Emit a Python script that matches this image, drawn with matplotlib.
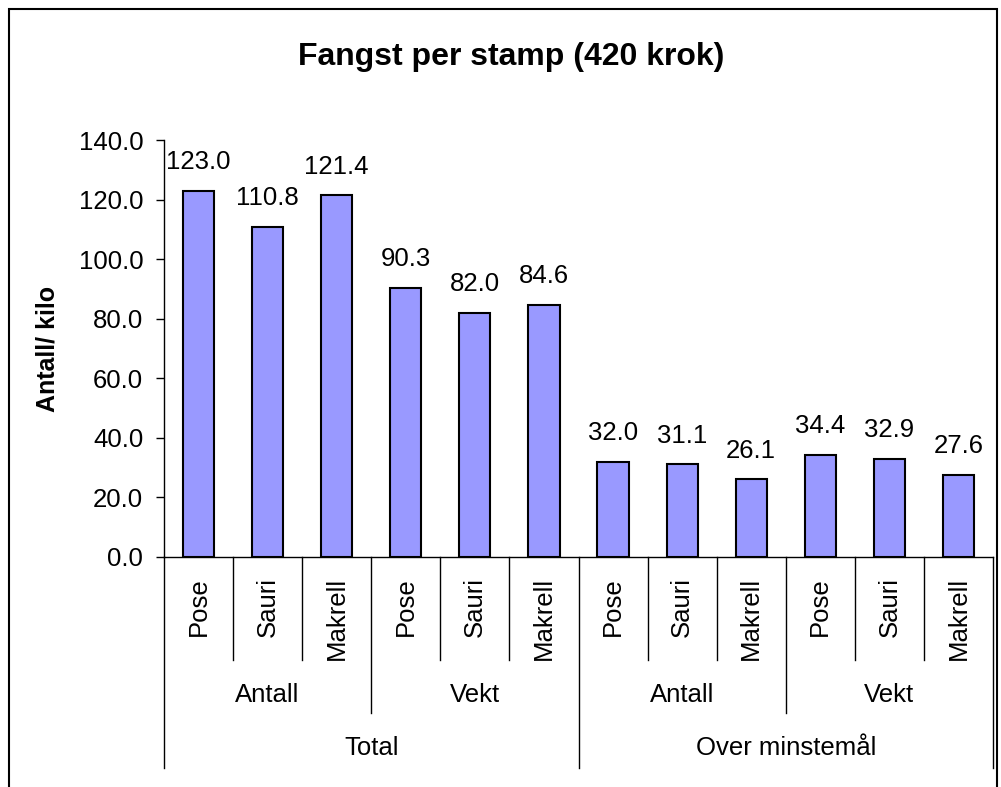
import matplotlib.pyplot as plt
from matplotlib.patches import Rectangle
from matplotlib.transforms import blended_transform_factory

plt.rcParams['font.family'] = ['Liberation Sans', 'DejaVu Sans']

# data
species = ["Pose", "Sauri", "Makrell"] * 4
measures = ["Antall", "Vekt", "Antall", "Vekt"]
groups = ["Total", "Over minstemål"]
values = [123.0, 110.8, 121.4, 90.3, 82.0, 84.6,
          32.0, 31.1, 26.1, 34.4, 32.9, 27.6]

FS = 18.5

fig = plt.figure(figsize=(10.01, 7.87), dpi=100)
ax = fig.add_axes([164/1001, 1 - 557/787, (993 - 164)/1001, (557 - 140)/787])

x = list(range(len(values)))
bars = ax.bar(x, values, width=0.45, color='#9999FF', edgecolor='black', linewidth=1.5)

for b, v in zip(bars, values):
    ax.annotate(f"{v:.1f}", (b.get_x() + b.get_width()/2, v),
                xytext=(0, 12), textcoords='offset points',
                ha='center', va='bottom', fontsize=FS)

ax.set_xlim(-0.5, len(values) - 0.5)
ax.set_ylim(0, 140)
ax.set_yticks(range(0, 141, 20))
ax.set_yticklabels([f"{t:.1f}" for t in range(0, 141, 20)], fontsize=FS)
ax.tick_params(axis='y', direction='out', length=6, width=1, pad=9)
ax.set_xticks([])
ax.spines['top'].set_visible(False)
ax.spines['right'].set_visible(False)
ax.spines['left'].set_linewidth(1)
ax.spines['bottom'].set_linewidth(1)
ax.set_ylabel("Antall/ kilo", fontsize=FS - 0.5, fontweight='bold', labelpad=14)

# multi-level category axis
tr = blended_transform_factory(ax.transData, fig.transFigure)
y0 = 1 - 557/787
for i in range(len(values) + 1):
    if i % 6 == 0:
        yb = 1 - 768/787
    elif i % 3 == 0:
        yb = 1 - 713/787
    else:
        yb = 1 - 660/787
    ax.plot([i - 0.5, i - 0.5], [y0, yb], color='black', lw=1,
            transform=tr, clip_on=False)

for i, s in enumerate(species):
    ax.text(i, 1 - 577/787, s, rotation=90, ha='center', va='top',
            fontsize=FS, transform=tr)
for j, m in enumerate(measures):
    ax.text(j*3 + 1, 1 - 695/787, m, ha='center', va='center',
            fontsize=FS, transform=tr)
for k, g in enumerate(groups):
    ax.text(k*6 + 2.5, 1 - 748/787, g, ha='center', va='center',
            fontsize=FS, transform=tr)

fig.text(511/1001, 1 - 57/787, "Fangst per stamp (420 krok)",
         ha='center', va='center', fontsize=23, fontweight='bold')

# chart border
fig.patches.append(Rectangle((9/1001, -0.05), (997 - 9)/1001, 1.05 - 9/787,
                             transform=fig.transFigure, fill=False,
                             edgecolor='black', lw=1.5))

fig.savefig("out.png", dpi=100)
